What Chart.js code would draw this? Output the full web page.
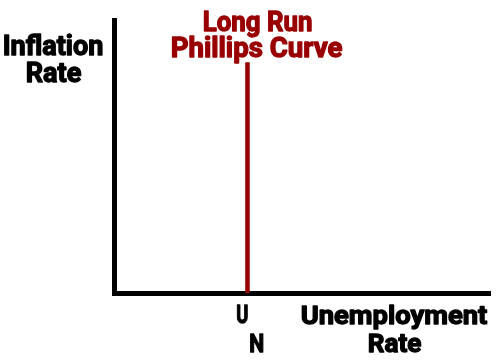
<!DOCTYPE html>
<html>
<head>
<meta charset="utf-8">
<script src="https://cdn.jsdelivr.net/npm/chart.js@4.4.1/dist/chart.umd.min.js"></script>
<style>
  html, body { margin: 0; padding: 0; background: #fff; }
  #wrap { width: 500px; height: 363px; }
</style>
</head>
<body>
<div id="wrap"><canvas id="lrpc"></canvas></div>
<script>
// axis ranges (no numbers shown on the original chart)
const xRange = [0, 10];
const yRange = [0, 10];
// long run Phillips curve: vertical at the natural rate of unemployment
const naturalRate = [3.55, 3.55];
const lrpcInflation = [0, 8.45];

const titleLines = ["Long Run", "Phillips Curve"];
const yAxisLines = ["Inflation", "Rate"];
const xAxisLines = ["Unemployment", "Rate"];

const RED = "#990000";

document.addEventListener("DOMContentLoaded", function () {
    const canvas = document.getElementById("lrpc");

    // draw text fitted to an exact width, with a thin stroke for a heavier look
    function txt(ctx, s, left, baseline, w, color, size) {
        ctx.save();
        ctx.font = "bold " + size + "px Roboto, 'Liberation Sans', sans-serif";
        ctx.fillStyle = color;
        ctx.strokeStyle = color;
        ctx.lineWidth = 1.3;
        ctx.lineJoin = "round";
        ctx.textAlign = "left";
        ctx.textBaseline = "alphabetic";
        const m = ctx.measureText(s).width + 1.3;
        ctx.translate(left + 0.65, baseline - 0.6);
        ctx.scale(w / m, 1);
        ctx.fillText(s, 0, 0);
        ctx.strokeText(s, 0, 0);
        ctx.restore();
    }

    const labelsPlugin = {
        id: "labels",
        afterDraw(chart) {
            const ctx = chart.ctx;
            const xs = chart.scales.x;
            const nx = xs.getPixelForValue(naturalRate[0]);
            // curve label
            txt(ctx, titleLines[0], 202, 32, 111, RED, 28);
            txt(ctx, titleLines[1], 170, 58, 173, RED, 28);
            // y axis label
            txt(ctx, yAxisLines[0], 2, 56, 102, "#000", 27);
            txt(ctx, yAxisLines[1], 25, 83, 57, "#000", 27);
            // x axis label
            txt(ctx, xAxisLines[0], 300, 325, 188, "#000", 26.5);
            txt(ctx, xAxisLines[1], 367, 353, 55, "#000", 26.5);
            // U sub N
            txt(ctx, "U", nx - 12, 324, 13, "#000", 26.5);
            txt(ctx, "N", nx + 1, 353, 16, "#000", 26.5);
        }
    };

    new Chart(canvas, {
        type: "scatter",
        data: {
            datasets: [{
                data: naturalRate.map((x, i) => ({ x: x, y: lrpcInflation[i] })),
                showLine: true,
                borderColor: RED,
                borderWidth: 4.5,
                pointRadius: 0,
                borderCapStyle: "butt"
            }]
        },
        options: {
            responsive: true,
            maintainAspectRatio: false,
            animation: false,
            layout: { padding: { left: 114, right: 10, top: 20, bottom: 70 } },
            plugins: {
                legend: { display: false },
                tooltip: { enabled: false }
            },
            scales: {
                x: {
                    min: xRange[0], max: xRange[1],
                    grid: { display: false, drawTicks: false },
                    border: { display: true, color: "#000", width: 5 },
                    ticks: { display: false }
                },
                y: {
                    min: yRange[0], max: yRange[1],
                    grid: { display: false, drawTicks: false },
                    border: { display: true, color: "#000", width: 5 },
                    ticks: { display: false }
                }
            }
        },
        plugins: [labelsPlugin]
    });
});
</script>
</body>
</html>
